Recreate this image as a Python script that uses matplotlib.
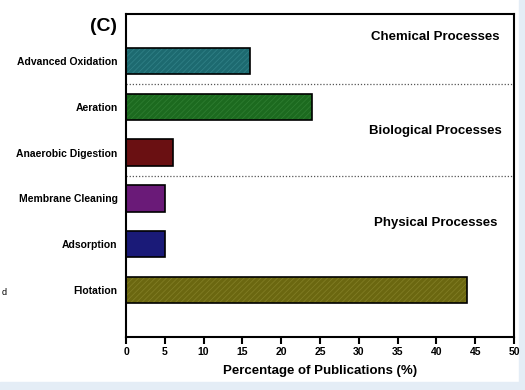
import matplotlib.pyplot as plt
from matplotlib.patches import Rectangle

plt.rcParams['font.family'] = ['Liberation Sans', 'DejaVu Sans']
plt.rcParams['font.weight'] = 'bold'
plt.rcParams['hatch.linewidth'] = 0.6

processes = ['Advanced Oxidation', 'Aeration', 'Anaerobic Digestion',
             'Membrane Cleaning', 'Adsorption', 'Flotation']
percentages = [16, 24, 6, 5, 5, 44]
bar_colors = ['#1d6a70', '#1c6a1f', '#6a1012', '#6a1a78', '#1a1a78', '#6b6710']
hatch_colors = ['#2f7f85', '#2d7c30', '#7e2a2c', '#7e3a8c', '#30308c', '#807c24']
hatched = [True, True, False, False, False, True]
groups = ['Chemical Processes', 'Biological Processes', 'Physical Processes']

fig = plt.figure(figsize=(5.25, 3.9), dpi=100)
fig.patches.append(Rectangle((0.988, 0), 0.02, 1, transform=fig.transFigure,
                             color='#e4edf6', zorder=-1))
fig.patches.append(Rectangle((0, 0), 1, 0.02, transform=fig.transFigure,
                             color='#e4edf6', zorder=-1))
ax = fig.add_axes([0.24, 0.136, 0.739, 0.828])

ypos = list(range(len(processes)))[::-1]
for y, v, c, hc, h in zip(ypos, percentages, bar_colors, hatch_colors, hatched):
    ax.barh(y, v, height=0.57, color=c, edgecolor=hc if h else c,
            hatch='//////' if h else None, linewidth=0, zorder=2)
    ax.barh(y, v, height=0.57, fill=False, edgecolor='black', linewidth=1.2, zorder=3)

# dotted separators between process groups
for yl in (4.5, 2.5):
    ax.axhline(yl, color='#555555', linestyle=(0, (1, 1.5)), linewidth=0.9, zorder=1)

for text, yt in zip(groups, (5.52, 3.46, 1.46)):
    ax.text(39.9, yt, text, ha='center', va='center', fontsize=9.5, fontweight='bold')

ax.set_xlim(0, 50)
ax.set_ylim(-1.02, 6.02)
ax.set_xticks(range(0, 51, 5))
ax.set_yticks(ypos)
ax.set_yticklabels(processes, fontsize=7.5, fontweight='bold')
ax.tick_params(axis='x', labelsize=7.5, length=5, width=1.5, direction='out', pad=2)
ax.tick_params(axis='y', length=0, pad=6)
for lbl in ax.get_xticklabels():
    lbl.set_fontweight('bold')
for s in ax.spines.values():
    s.set_linewidth(1.5)
ax.set_xlabel('Percentage of Publications (%)', fontsize=9.5, fontweight='bold', labelpad=6)

fig.text(0.223, 0.933, '(C)', ha='right', va='center', fontsize=14, fontweight='bold')
fig.text(0.004, 0.25, 'd', ha='left', va='center', fontsize=6.5, fontweight='normal')

fig.savefig('out.png', dpi=100)
